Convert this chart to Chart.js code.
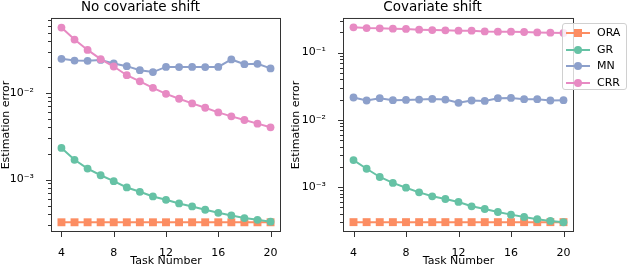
<!DOCTYPE html>
<html>
<head>
<meta charset="utf-8">
<script src="https://cdn.jsdelivr.net/npm/chart.js@4/dist/chart.umd.min.js"></script>
<style>
  body { margin: 0; background: #fff; width: 628px; height: 266px; position: relative; overflow: hidden; font-family: "DejaVu Sans", sans-serif; }
  .box { position: absolute; top: 0; height: 266px; }
  #legend { position: absolute; left: 562px; top: 23px; width: 63px; height: 65px; background: rgba(255,255,255,0.8); border: 1px solid #d0d0d0; border-radius: 3px; }
  .item { position: absolute; left: 0; height: 16px; width: 63px; }
  .item .ln { position: absolute; left: 3px; top: 7px; width: 24px; height: 2px; }
  .item .mk { position: absolute; left: 11px; top: 4px; width: 8px; height: 8px; border-radius: 50%; }
  .item .mk.sq { border-radius: 0; }
  .item span { position: absolute; left: 34px; top: 0; font-size: 11px; line-height: 16px; color: #000; }
</style>
</head>
<body>
<div class="box" style="left:0;width:332px"><canvas id="left"></canvas></div>
<div class="box" style="left:291px;width:335px"><canvas id="right"></canvas></div>
<div id="legend"></div>
<script>
const tasks = [4, 5, 6, 7, 8, 9, 10, 11, 12, 13, 14, 15, 16, 17, 18, 19, 20];
const methods = ['ORA', 'GR', 'MN', 'CRR'];
const colors = ['#fc8d62', '#66c2a5', '#8da0cb', '#e78ac3'];
const xTicks = [4, 8, 12, 16, 20];

// No covariate shift
const oraNo = [0.00032, 0.00032, 0.00032, 0.00032, 0.00032, 0.00032, 0.00032, 0.00032, 0.00032, 0.00032, 0.00032, 0.00032, 0.00032, 0.00032, 0.00032, 0.00032, 0.00032];
const grNo = [0.00232, 0.00169, 0.00134, 0.00112, 0.000957, 0.000809, 0.000721, 0.000637, 0.000582, 0.000529, 0.000488, 0.000447, 0.000412, 0.000384, 0.000358, 0.000342, 0.000325];
const mnNo = [0.0249, 0.0238, 0.0236, 0.0242, 0.0220, 0.0205, 0.0184, 0.0175, 0.0201, 0.0200, 0.0201, 0.0200, 0.0201, 0.0245, 0.0216, 0.0218, 0.0193];
const crrNo = [0.0573, 0.0416, 0.0316, 0.0247, 0.0203, 0.0161, 0.0137, 0.0115, 0.0098, 0.0086, 0.0076, 0.00677, 0.00598, 0.00538, 0.00488, 0.00443, 0.00402];

// Covariate shift
const oraCs = [0.0003, 0.0003, 0.0003, 0.0003, 0.0003, 0.0003, 0.0003, 0.0003, 0.0003, 0.0003, 0.0003, 0.0003, 0.0003, 0.0003, 0.0003, 0.0003, 0.0003];
const grCs = [0.00252, 0.00187, 0.00141, 0.00115, 0.000977, 0.000833, 0.000727, 0.000663, 0.000599, 0.000516, 0.000471, 0.000425, 0.000388, 0.000359, 0.000331, 0.000313, 0.000299];
const mnCs = [0.0215, 0.0194, 0.0210, 0.0196, 0.0198, 0.0200, 0.0205, 0.0200, 0.0179, 0.0194, 0.0191, 0.0210, 0.0212, 0.0203, 0.0203, 0.0194, 0.0196];
const crrCs = [0.238, 0.232, 0.230, 0.227, 0.225, 0.220, 0.217, 0.215, 0.212, 0.212, 0.207, 0.205, 0.205, 0.203, 0.200, 0.198, 0.196];

const supers = { '-': '⁻', '0': '⁰', '1': '¹', '2': '²', '3': '³', '4': '⁴' };
function powLabel(v) {
  const e = Math.round(Math.log10(v));
  if (Math.abs(Math.log10(v) - e) > 1e-6) return '';
  return '10' + String(e).split('').map(c => supers[c]).join('');
}

// frame and outward tick marks, like matplotlib
const framePlugin = {
  id: 'frame',
  afterDraw(chart) {
    const { ctx, chartArea: a, scales: { x, y } } = chart;
    ctx.save();
    ctx.strokeStyle = '#333';
    ctx.lineWidth = 1;
    ctx.beginPath();
    xTicks.forEach(t => {
      const px = Math.round(x.getPixelForValue(t)) + 0.5;
      ctx.moveTo(px, a.bottom); ctx.lineTo(px, a.bottom + 5);
    });
    const lo = Math.floor(Math.log10(y.min)), hi = Math.ceil(Math.log10(y.max));
    for (let e = lo; e <= hi; e++) {
      for (let k = 1; k <= 9; k++) {
        const v = k * Math.pow(10, e);
        if (v < y.min || v > y.max) continue;
        const py = Math.round(y.getPixelForValue(v)) + 0.5;
        ctx.moveTo(a.left, py); ctx.lineTo(a.left - (k === 1 ? 5 : 3), py);
      }
    }
    ctx.stroke();
    ctx.strokeRect(a.left + 0.5, a.top + 0.5, a.right - a.left - 1, a.bottom - a.top - 1);
    ctx.restore();
  }
};

function makeChart(id, title, series, yMin, yMax, yWidth, yTitlePad) {
  const datasets = series.map((data, i) => ({
    label: methods[i],
    data: tasks.map((t, j) => ({ x: t, y: data[j] })),
    borderColor: colors[i],
    backgroundColor: colors[i],
    borderWidth: 2,
    pointStyle: i === 0 ? 'rect' : 'circle',
    pointRadius: i === 0 ? 5.6 : 3.9,
    pointBorderWidth: 0,
    order: 4 - i
  }));
  return new Chart(document.getElementById(id), {
    type: 'line',
    data: { datasets },
    plugins: [framePlugin],
    options: {
      responsive: true,
      maintainAspectRatio: false,
      animation: false,
      layout: { padding: { left: 0, right: yWidth, top: 0, bottom: 0 } },
      plugins: {
        legend: { display: false },
        tooltip: { enabled: false },
        title: {
          display: true, text: title, color: '#000',
          font: { family: 'DejaVu Sans', size: 13.5, weight: 'normal', lineHeight: 1.05 },
          padding: { top: 0, bottom: 3.8 }
        }
      },
      scales: {
        x: {
          type: 'linear', min: 3.2, max: 20.8,
          afterFit: s => { s.height = 34; },
          grid: { display: false },
          border: { display: false },
          ticks: { stepSize: 4, includeBounds: false, color: '#000', padding: 6.5, maxRotation: 0,
                   font: { family: 'DejaVu Sans', size: 11 } },
          title: { display: true, text: 'Task Number', color: '#000', padding: { top: 0, bottom: 0 },
                   font: { family: 'DejaVu Sans', size: 11, lineHeight: 0.95 } }
        },
        y: {
          type: 'logarithmic', min: yMin, max: yMax,
          afterFit: s => { s.width = yWidth; },
          grid: { display: false },
          border: { display: false },
          ticks: { autoSkip: false, color: '#000', padding: 9, callback: v => powLabel(v),
                   font: { family: 'DejaVu Sans', size: 11 } },
          title: { display: true, text: 'Estimation error', color: '#000', padding: { top: yTitlePad, bottom: 0 },
                   font: { family: 'DejaVu Sans', size: 11, lineHeight: 1.0 } }
        }
      }
    }
  });
}

makeChart('left', 'No covariate shift', [oraNo, grNo, mnNo, crrNo], 2.47e-4, 0.074, 51, 0.7);
makeChart('right', 'Covariate shift', [oraCs, grCs, mnCs, crrCs], 2.14e-4, 0.328, 52, 0);

// legend, built from the method names and colours
const legend = document.getElementById('legend');
methods.forEach((m, i) => {
  const it = document.createElement('div');
  it.className = 'item';
  it.style.top = (1 + i * 16.5) + 'px';
  it.innerHTML = `<div class="ln" style="background:${colors[i]}"></div>` +
    `<div class="mk${i === 0 ? ' sq' : ''}" style="background:${colors[i]}"></div><span>${m}</span>`;
  legend.appendChild(it);
});
</script>
</body>
</html>
